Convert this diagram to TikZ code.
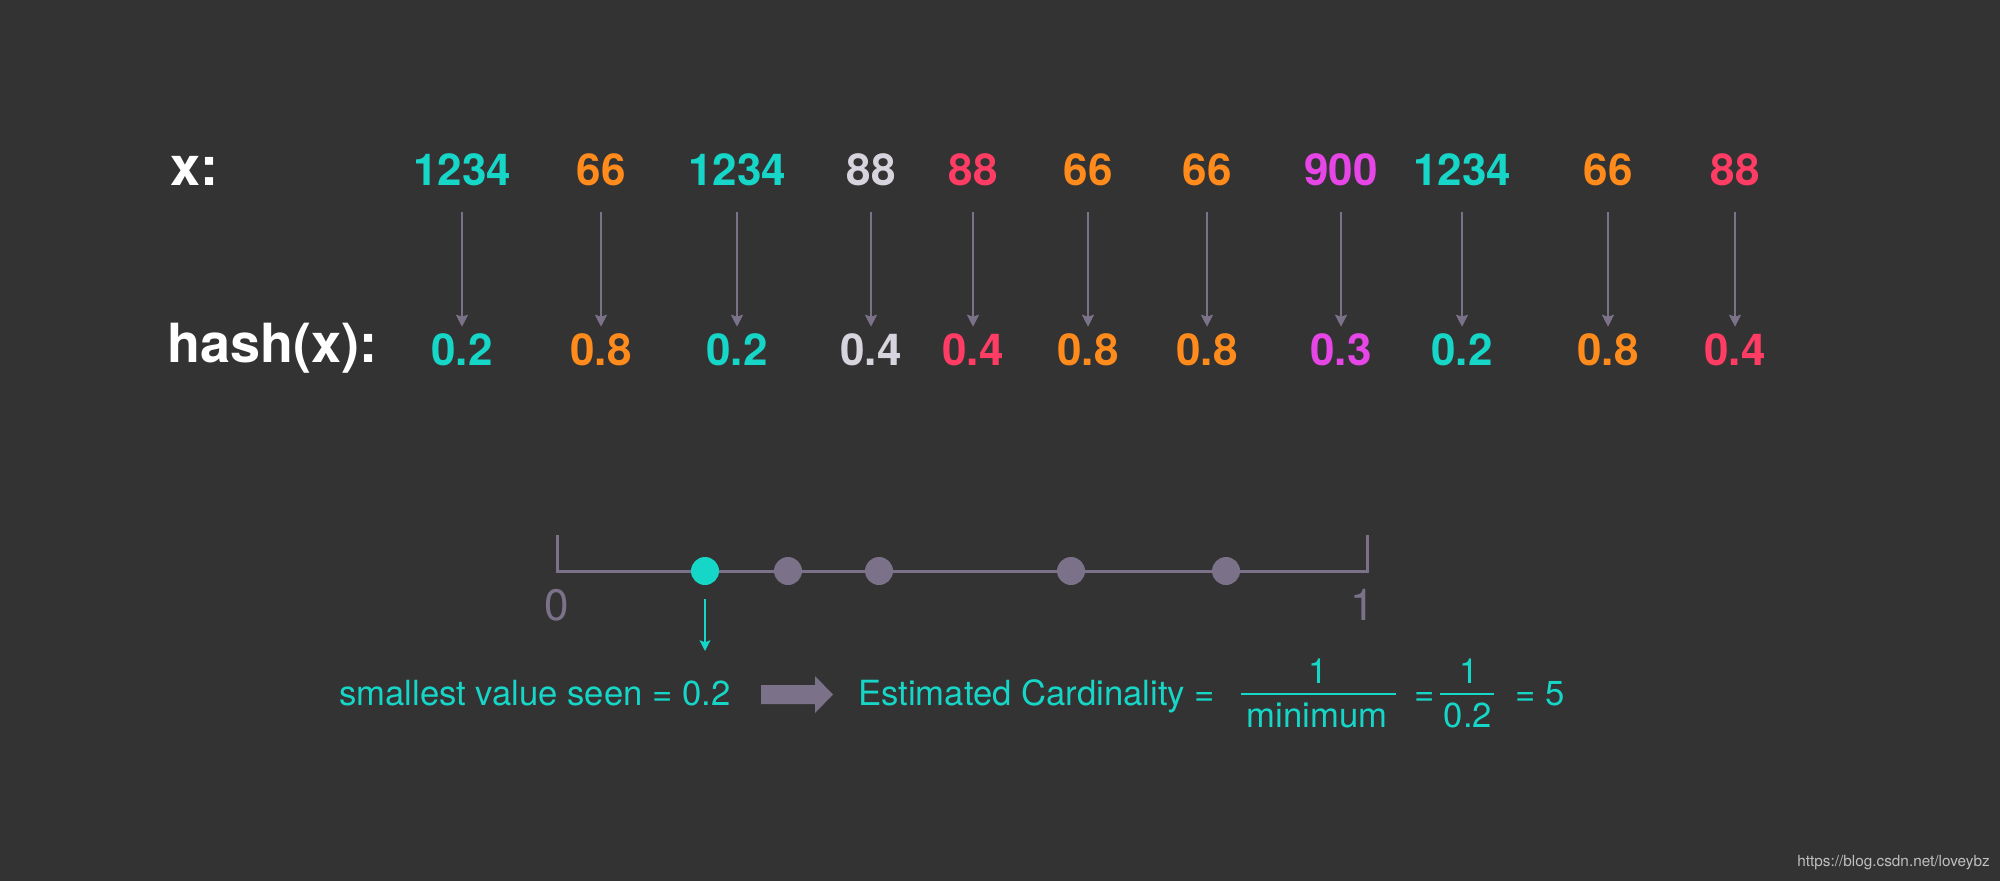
\documentclass[tikz,border=0pt]{standalone}
\usepackage{fontspec}
\setmainfont{TeX Gyre Heros}
\usepackage{tikz}
\usetikzlibrary{arrows.meta,calc}

\definecolor{bgdark}{RGB}{51,51,51}
\definecolor{hteal}{RGB}{22,214,200}
\definecolor{horange}{RGB}{255,139,28}
\definecolor{hred}{RGB}{255,60,100}
\definecolor{hmagenta}{RGB}{230,70,230}
\definecolor{hsilver}{RGB}{216,212,222}
\definecolor{hgrey}{RGB}{123,114,137}

\begin{document}
\begin{tikzpicture}[x=0.75pt,y=0.75pt,yscale=-1,xscale=1,
  numtxt/.style={anchor=base,inner sep=0pt,text height=0.7em,text depth=0pt,font=\fontsize{33}{36}\selectfont\bfseries},
  rowlabel/.style={anchor=base west,inner sep=0pt,text=white,font=\fontsize{40.5}{44}\selectfont\bfseries},
  hasharrow/.style={draw=hgrey,line width=1.5pt,-{Stealth[length=9pt,width=9pt,inset=1.5pt]},shorten <=20pt,shorten >=21.5pt},
  minarrow/.style={draw=hteal,line width=1.5pt,-{Stealth[length=8pt,width=8pt,inset=1.5pt]},shorten <=10.5pt},
  dot/.style={circle,inner sep=0pt,minimum size=21pt},
  axislabel/.style={anchor=base,inner sep=0pt,text=hgrey,font=\fontsize{33}{36}\selectfont},
  bottomtxt/.style={anchor=base west,inner sep=0pt,text=hteal,font=\fontsize{26}{30}\selectfont},
  fracbar/.style={draw=hteal,line width=1.2pt}]
%Shape: Rectangle
\fill[bgdark] (0,0) rectangle (2000,881);
\useasboundingbox (0,0) rectangle (2000,881);

%Text Node
\node[rowlabel] (xlab) at (170,185) {x:};
\node[rowlabel] (hashlab) at (167,362) {hash(x):};

%Straight Lines
\foreach \i/\xx/\va/\ha/\col in {1/462/1234/0.2/hteal, 2/601/66/0.8/horange, 3/737/1234/0.2/hteal, 4/871/88/0.4/hsilver, 5/973/88/0.4/hred, 6/1088/66/0.8/horange, 7/1207/66/0.8/horange, 8/1341/900/0.3/hmagenta, 9/1462/1234/0.2/hteal, 10/1608/66/0.8/horange, 11/1735/88/0.4/hred}
{
  \node[numtxt,text=\col] (x\i) at (\xx,185) {\va};
  \node[numtxt,text=\col] (h\i) at (\xx,365) {\ha};
  \draw[hasharrow] (x\i) -- (h\i);
}

%Straight Lines
\draw[hgrey,line width=2.25pt] (557,535) -- (557,571) -- (1367,571) -- (1367,535);
%Shape: Circle
\node[dot,fill=hteal] (d1) at (705,571) {};
\foreach \i/\xx in {2/788,3/879,4/1071,5/1226}
  \node[dot,fill=hgrey] (d\i) at (\xx,571) {};
\node[axislabel] (zero) at (557,620) {0};
\node[axislabel] (one) at (1363,620) {1};

%Straight Lines
\coordinate (minpt) at (705,651);
\draw[minarrow] (d1) -- (minpt);

%Text Node
\node[bottomtxt] (seen) at (339,705) {smallest value seen = 0.2};
%Shape: Right Arrow
\fill[hgrey] (761,685) -- (815,685) -- (815,676) -- (833,694.5) -- (815,713) -- (815,704) -- (761,704) -- cycle;
\node[bottomtxt] (est) at (858,705) {Estimated Cardinality =};
\node[bottomtxt,anchor=base] (num1) at (1318,683) {1};
\node[bottomtxt,anchor=base] (den1) at (1317,727) {minimum};
\draw[fracbar] (1241,694) -- (1396,694);
\node[bottomtxt,anchor=base] (eq1) at (1425,705) {=};
\node[bottomtxt,anchor=base] (num2) at (1469,683) {1};
\node[bottomtxt,anchor=base] (den2) at (1468,727) {0.2};
\draw[fracbar] (1440,694) -- (1494,694);
\node[bottomtxt] (res) at (1515,705) {= 5};

%Text Node
\node[anchor=base east,inner sep=0pt,text=black!25,font=\fontsize{11.5}{13}\selectfont] (wm) at (1990,866) {https://blog.csdn.net/loveybz};
\end{tikzpicture}
\end{document}
